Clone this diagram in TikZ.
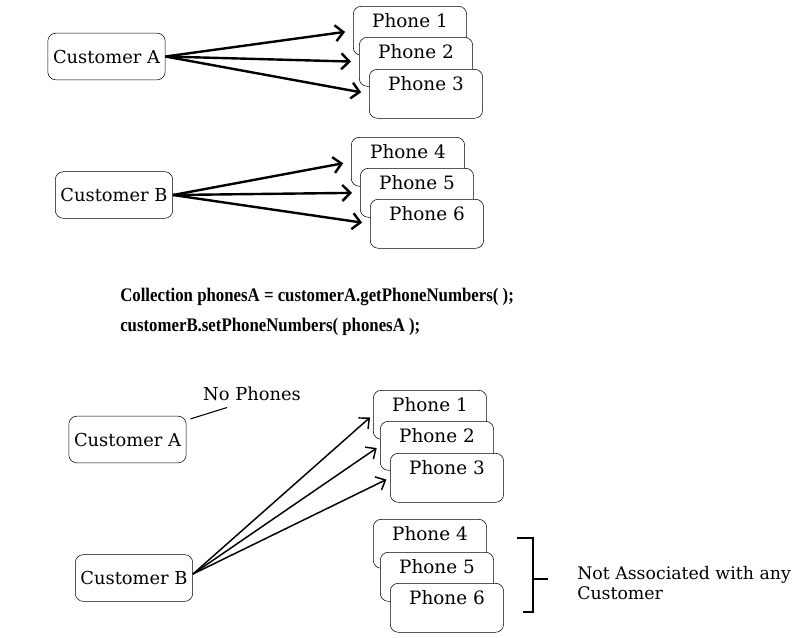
\documentclass[tikz,border=0pt]{standalone}
\usepackage{fontspec}
\setmainfont{DejaVu Serif}
\newfontfamily\codefont{Liberation Serif}
\usetikzlibrary{arrows.meta}

\newcommand{\stmt}[1]{\scalebox{0.875}[1]{#1}}

\begin{document}
\begin{tikzpicture}[x=0.75pt,y=-0.75pt,
    custbox/.style={draw,rounded corners=6pt,fill=white,minimum width=88pt,minimum height=35pt,inner sep=0pt,font=\fontsize{13.4}{15}\selectfont},
    phonebox/.style={draw,rounded corners=6pt,fill=white,anchor=north west,minimum width=85pt,inner xsep=0pt,inner ysep=3pt,text height=12.75pt,text depth=18pt,font=\fontsize{13.8}{15}\selectfont},
    link/.style={line width=1.8pt,shorten >=6pt,-{Straight Barb[length=6pt,width=12pt]}},
    thinlink/.style={line width=1.1pt,shorten >=3pt,-{Straight Barb[length=6pt,width=11pt]}},
    codeline/.style={anchor=west,inner sep=0pt,font=\codefont\bfseries\fontsize{14.4}{16}\selectfont}]
    \useasboundingbox (0,0) rectangle (806,637);

    % before: each customer owns three phones
    \node[custbox] (ca) at (106.5,56.5) {Customer A};
    \node[custbox] (cb) at (114,195) {Customer B};
    \foreach \n/\x/\y in {1/353/6, 2/359/37, 3/369/69, 4/351/137, 5/360/168, 6/370/199} {
        \node[phonebox] (pa\n) at (\x,\y) {Phone \n};
    }
    \foreach \n in {1,2,3} {
        \draw[link] (ca.east) -- (pa\n.west);
    }
    \foreach \n in {4,5,6} {
        \draw[link] (cb.east) -- (pa\n.west);
    }

    % the two statements
    \node[codeline] (stmt1) at (120,297) {\stmt{Collection phonesA = customerA.getPhoneNumbers( );}};
    \node[codeline] (stmt2) at (120,327) {\stmt{customerB.setPhoneNumbers( phonesA );}};

    % after: B holds A's phones, 4-6 are orphaned
    \node[custbox] (cc) at (127.5,439.5) {Customer A};
    \node[custbox] (cd) at (134,578) {Customer B};
    \foreach \n/\x/\y in {1/373/390, 2/380/421, 3/390/453, 4/373/519, 5/380/552, 6/390/583} {
        \node[phonebox] (pb\n) at (\x,\y) {Phone \n};
    }
    \foreach \n in {1,2,3} {
        \draw[thinlink] ([yshift=3]cd.east) -- (pb\n.west);
    }

    \node[font=\fontsize{13.4}{15}\selectfont,inner sep=1pt] (nophones) at (252,394) {No Phones};
    \draw[line width=0.8pt] ([shift={(4,3)}]cc.north east) -- ([shift={(-25,5)}]nophones.south);

    % bracket round phones 4 to 6
    \node[anchor=west,align=left,inner sep=0pt,font=\fontsize{13}{15}\selectfont] (orphan) at (577,583) {Not Associated with any\\Customer};
    \draw[line width=1.2pt] (517,538) -- (533,538) -- (533,612) -- (523,612);
    \draw[line width=1.2pt] (533,579) -- (548,579);
\end{tikzpicture}
\end{document}
